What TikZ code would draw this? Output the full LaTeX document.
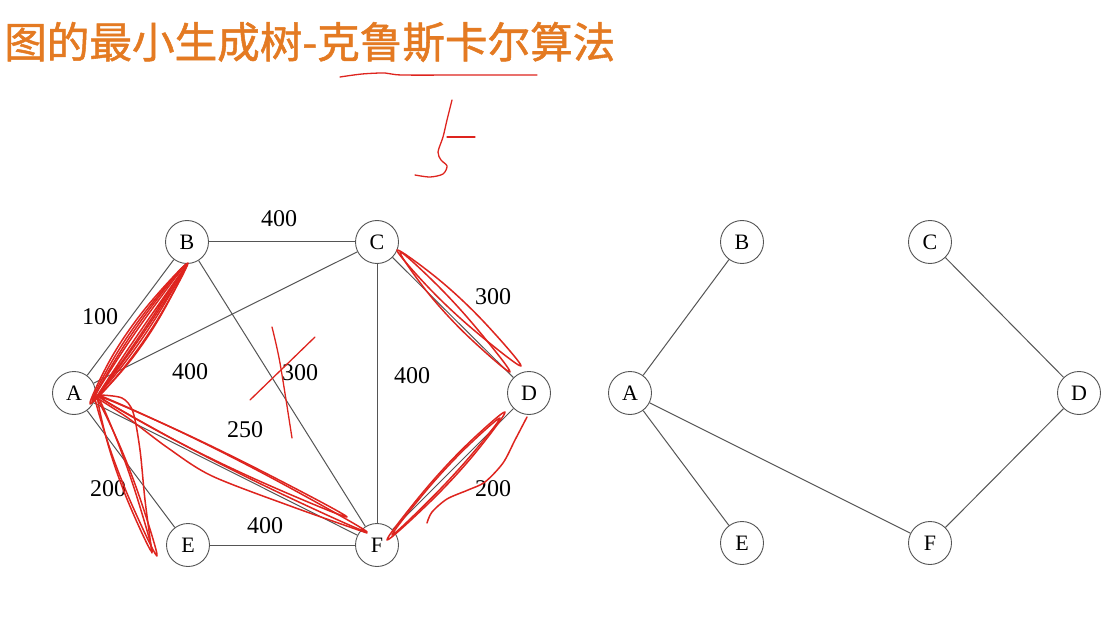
\documentclass[tikz,border=0pt]{standalone}
\usepackage{fontspec}
\setmainfont{Liberation Serif}
\newfontfamily\cjk{Noto Sans CJK SC}[FakeBold=1.2]
\usetikzlibrary{calc}
\definecolor{titleorange}{RGB}{228,122,34}
\definecolor{penred}{RGB}{222,36,30}
\definecolor{edgegray}{RGB}{85,85,85}
\tikzset{
  vertex/.style={circle,draw=edgegray,line width=0.9pt,fill=white,minimum size=43pt,inner sep=0pt,font=\fontsize{22}{24}\selectfont},
  edge/.style={draw=edgegray,line width=1pt},
  weight/.style={font=\fontsize{24}{26}\selectfont,inner sep=1pt},
  redpen/.style={draw=penred,line width=1.5pt,line cap=round,line join=round},
}
\newcommand{\scrib}[4]{%
  \draw[redpen] plot[smooth cycle,tension=0.6] coordinates {
    (#1)
    ($(#1)!0.3!(#2)!#3!90:(#2)$)
    ($(#1)!0.65!(#2)!#3!90:(#2)$)
    (#2)
    ($(#1)!0.65!(#2)!#4!-90:(#2)$)
    ($(#1)!0.3!(#2)!#4!-90:(#2)$)
  };}
\begin{document}
\begin{tikzpicture}[x=1pt,y=-1pt]
\useasboundingbox[fill=white] (0,0) rectangle (1110,628);
% title
\node[anchor=west,inner sep=0pt,text=titleorange,font=\cjk\fontsize{42.6}{46}\selectfont] (title) at (4,42) {图的最小生成树-克鲁斯卡尔算法};
% left graph nodes
\node[vertex] (A) at (74,393) {A};
\node[vertex] (B) at (187,242) {B};
\node[vertex] (C) at (377,242) {C};
\node[vertex] (D) at (529,393) {D};
\node[vertex] (E) at (188,545) {E};
\node[vertex] (F) at (377,545) {F};
% left edges
\draw[edge] (A) -- (B);
\draw[edge] (B) -- (C);
\draw[edge] (A) -- (C);
\draw[edge] (B) -- (F);
\draw[edge] (C) -- (F);
\draw[edge] (C) -- (D);
\draw[edge] (A) -- (F);
\draw[edge] (A) -- (E);
\draw[edge] (D) -- (F);
\draw[edge] (E) -- (F);
% weights
\node[weight] (wBC) at (279,219) {400};
\node[weight] (wAB) at (100,317) {100};
\node[weight] (wAC) at (190,372) {400};
\node[weight] (wBF) at (300,373) {300};
\node[weight] (wCF) at (412,376) {400};
\node[weight] (wCD) at (493,297) {300};
\node[weight] (wAF) at (245,430) {250};
\node[weight] (wAE) at (108,489) {200};
\node[weight] (wDF) at (493,489) {200};
\node[weight] (wEF) at (265,526) {400};
% right graph
\node[vertex] (A2) at (630,393) {A};
\node[vertex] (B2) at (742,242) {B};
\node[vertex] (C2) at (930,242) {C};
\node[vertex] (D2) at (1079,393) {D};
\node[vertex] (E2) at (742,543) {E};
\node[vertex] (F2) at (930,543) {F};
\draw[edge] (A2) -- (B2);
\draw[edge] (A2) -- (E2);
\draw[edge] (A2) -- (F2);
\draw[edge] (C2) -- (D2);
\draw[edge] (D2) -- (F2);
% red annotations
\draw[redpen,line width=1.3pt] plot[smooth] coordinates {(340,77) (362,74) (385,73) (402,75) (470,75) (537,75)};
\draw[redpen,line width=1.3pt] plot[smooth] coordinates {(452,100) (447,120) (443,137) (438,152) (441,160) (447,166) (443,174) (430,177) (415,175)};
\draw[redpen,line width=1.3pt] (447,137) -- (475,137);
% AB
\scrib{92,402}{187,264}{7pt}{7pt}
\scrib{95,398}{185,266}{5pt}{8pt}
\scrib{90,404}{188,263}{9pt}{3pt}
\scrib{93,400}{186,265}{3pt}{5pt}
\scrib{94,401}{186,266}{1pt}{1pt}
% CD
\scrib{397,250}{521,366}{7pt}{6pt}
\scrib{400,252}{510,372}{5pt}{7pt}
% AF
\scrib{97,395}{367,532}{5pt}{5pt}
\scrib{100,397}{347,517}{4pt}{6pt}
\draw[redpen] plot[smooth] coordinates {(97,398) (128,418) (168,448) (212,476) (293,507) (367,533)};
% AE
\scrib{95,396}{157,556}{5pt}{5pt}
\scrib{98,398}{152,552}{4pt}{6pt}
\draw[redpen] plot[smooth] coordinates {(100,395) (122,398) (133,412) (140,450) (145,500) (152,553)};
% DF
\scrib{505,412}{387,540}{6pt}{6pt}
\scrib{500,418}{392,535}{4pt}{5pt}
\draw[redpen] plot[smooth] coordinates {(527,417) (515,440) (503,463) (485,482) (468,490) (447,499) (432,512) (427,523)};
% cross over 300
\draw[redpen,line width=1.3pt] (250,400) -- (315,337);
\draw[redpen,line width=1.3pt] plot[smooth] coordinates {(272,327) (280,363) (292,438)};
\end{tikzpicture}
\end{document}
